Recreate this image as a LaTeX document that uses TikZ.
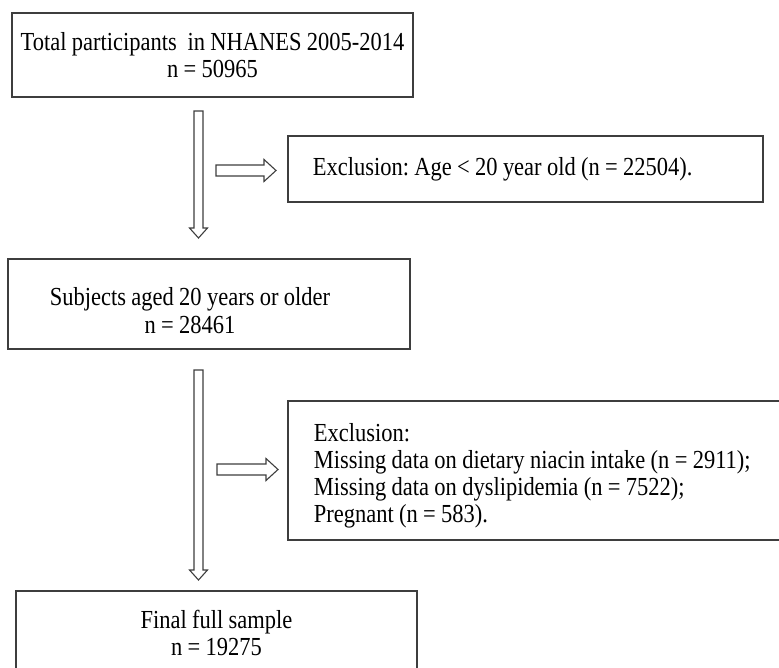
\documentclass[tikz,border=0pt]{standalone}
\usepackage{fontspec}
\setmainfont{Liberation Serif}[FakeStretch=0.865,WordSpace=0.95]
\frenchspacing
\usepackage{tikz}
\usetikzlibrary{calc}
\definecolor{boxgray}{RGB}{62,62,62}
\tikzstyle{flowbox}=[rectangle,draw=boxgray,line width=1.6pt,fill=white,
                     font=\fontsize{26}{27.5}\selectfont,inner sep=0pt]
\tikzstyle{hollowarrow}=[draw=boxgray,line width=1.1pt,fill=white,line join=miter]
\newcommand\nodelabel[3][390pt]{\parbox{#1}{\centering #2 \\ #3 }}
\newcommand\vblock[2]{%
  \draw[hollowarrow] ($(#1)+(-4.5,0)$) -- ($(#1)+(4.5,0)$) -- ($(#2)+(4.5,-10)$)
    -- ($(#2)+(9,-10)$) -- (#2) -- ($(#2)+(-9,-10)$) -- ($(#2)+(-4.5,-10)$) -- cycle;}
\newcommand\hblock[2]{%
  \draw[hollowarrow] ($(#1)+(0,-5.5)$) -- ($(#2)+(-12,-5.5)$) -- ($(#2)+(-12,-11)$)
    -- (#2) -- ($(#2)+(-12,11)$) -- ($(#2)+(-12,5.5)$) -- ($(#1)+(0,5.5)$) -- cycle;}

\begin{document}
\begin{tikzpicture}[x=1pt,y=-1pt]
    \useasboundingbox (0,0) rectangle (779,668);
    \clip (0,0) rectangle (779,668);
    \node [flowbox,minimum width=401pt,minimum height=84pt] (total) at (212.5,55) {
        \nodelabel{Total participants\ \ in NHANES 2005-2014}{n = 50965}
    };
    \node [flowbox,anchor=west,minimum height=66pt,inner xsep=25pt,
           text width=425pt,align=flush left] (exage) at (287,169) {
        Exclusion: Age < 20 year old (n = 22504).
    };
    \node [flowbox,minimum width=402pt,minimum height=90pt,
           text height=36pt,text depth=10pt] (subjects) at (209,304) {
        \nodelabel[300pt]{Subjects aged 20 years or older}{n = 28461}\hspace{38pt}
    };
    \node [flowbox,anchor=west,minimum height=139pt,inner xsep=26pt,
           text width=470pt,align=flush left,font=\fontsize{26}{27}\selectfont] (exmiss) at (287,470.5) {
        \rule{0pt}{28pt}Exclusion:\\
        Missing data on dietary niacin intake (n = 2911);\\
        Missing data on dyslipidemia (n = 7522);\\
        Pregnant (n = 583).
    };
    \node [flowbox,minimum width=401pt,minimum height=84pt] (final) at (216.5,633) {
        \nodelabel[300pt]{Final full sample}{n = 19275}
    };
    \coordinate (a1top) at (198.5,111);
    \coordinate (a1tip) at (198.5,238);
    \coordinate (b1tail) at (216,170.5);
    \coordinate (b1tip) at (276,170.5);
    \coordinate (a2top) at (198.5,370);
    \coordinate (a2tip) at (198.5,580);
    \coordinate (b2tail) at (217,469.5);
    \coordinate (b2tip) at (278,469.5);
    \vblock{a1top}{a1tip}
    \hblock{b1tail}{b1tip}
    \vblock{a2top}{a2tip}
    \hblock{b2tail}{b2tip}
\end{tikzpicture}
\end{document}
